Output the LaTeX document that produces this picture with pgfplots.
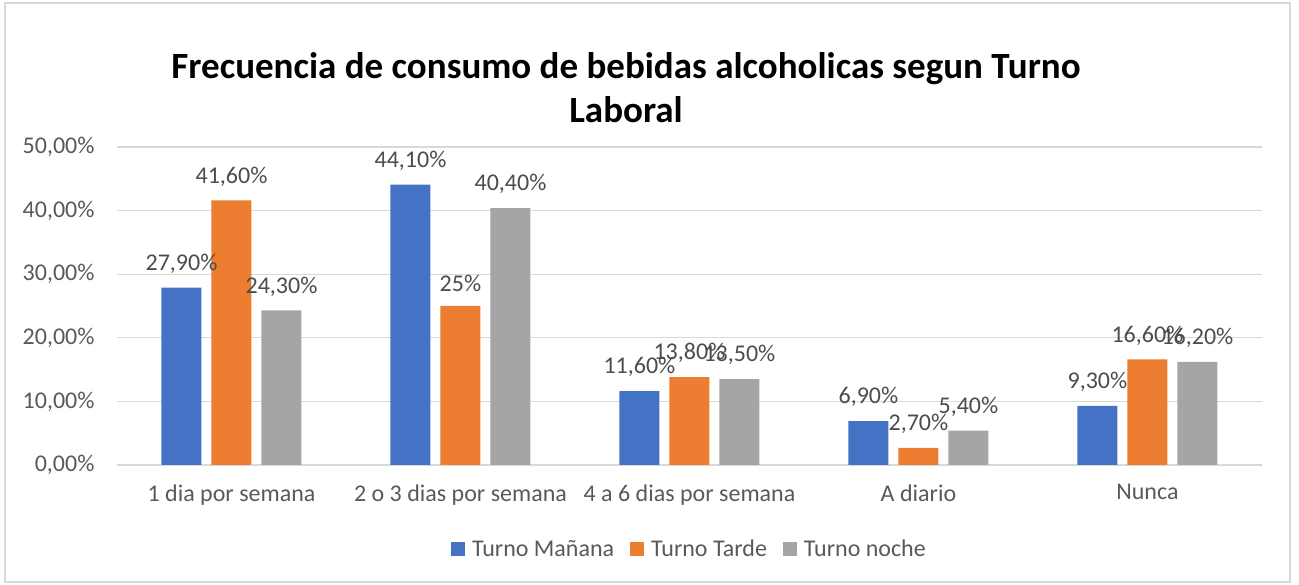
\documentclass[border=0pt]{standalone}
\usepackage{fontspec}
\setmainfont{Carlito}
\usepackage{pgfplots}
\pgfplotsset{compat=1.18}
\definecolor{xblue}{HTML}{4472C4}
\definecolor{xorange}{HTML}{ED7D31}
\definecolor{xgray}{HTML}{A5A5A5}
\definecolor{xtext}{HTML}{595959}
\definecolor{xgrid}{HTML}{D9D9D9}

\begin{document}
\begin{tikzpicture}[x=1pt,y=1pt]
\useasboundingbox (0,0) rectangle (1299,585);
\draw[xgrid, line width=1.5pt] (5,3) rectangle (1290,582);
\node[align=center, font=\fontsize{37}{44}\selectfont\bfseries] at (626,497)
  {Frecuencia de consumo de bebidas alcoholicas segun Turno\\Laboral};
\begin{axis}[
  at={(117pt,120pt)}, anchor=south west,
  scale only axis, width=1145pt, height=318pt,
  ybar=10pt, bar width=40pt,
  xmin=-0.5, xmax=4.5, ymin=0, ymax=50,
  xtick={0,1,2,3,4},
  xticklabels={1 dia por semana,2 o 3 dias por semana,4 a 6 dias por semana,A diario,Nunca},
  ytick={0,10,20,30,40,50},
  yticklabels={{0,00\%},{10,00\%},{20,00\%},{30,00\%},{40,00\%},{50,00\%}},
  axis line style={draw=none},
  major tick length=0pt,
  ymajorgrids, grid style={xgrid, line width=1.2pt},
  tick label style={font=\fontsize{24}{28}\selectfont, text=xtext},
  yticklabel style={xshift=-19pt},
  xticklabel style={yshift=-16pt},
  point meta=explicit symbolic,
  nodes near coords,
  nodes near coords style={font=\fontsize{24}{28}\selectfont, text=xtext!85!black, inner sep=0pt, yshift=14pt},
  legend columns=3,
  legend style={at={(0.5,-0.264)}, anchor=center, draw=none,
    font=\fontsize{24}{28}\selectfont, text=xtext,
    /tikz/every odd column/.append style={column sep=0pt},
    /tikz/every even column/.append style={column sep=14pt}},
  legend image code/.code={\fill[#1] (0pt,-7pt) rectangle (14pt,7pt); \path (19pt,0pt);},
]
\addplot[fill=xblue, draw=none] coordinates {
  (0,27.9) [27,90\%] (1,44.1) [44,10\%] (2,11.6) [11,60\%] (3,6.9) [6,90\%] (4,9.3) [9,30\%]};
\addplot[fill=xorange, draw=none] coordinates {
  (0,41.6) [41,60\%] (1,25.0) [25\%] (2,13.8) [13,80\%] (3,2.7) [2,70\%] (4,16.6) [16,60\%]};
\addplot[fill=xgray, draw=none] coordinates {
  (0,24.3) [24,30\%] (1,40.4) [40,40\%] (2,13.5) [13,50\%] (3,5.4) [5,40\%] (4,16.2) [16,20\%]};
\legend{Turno Mañana,Turno Tarde,Turno noche}
\end{axis}
\end{tikzpicture}
\end{document}
